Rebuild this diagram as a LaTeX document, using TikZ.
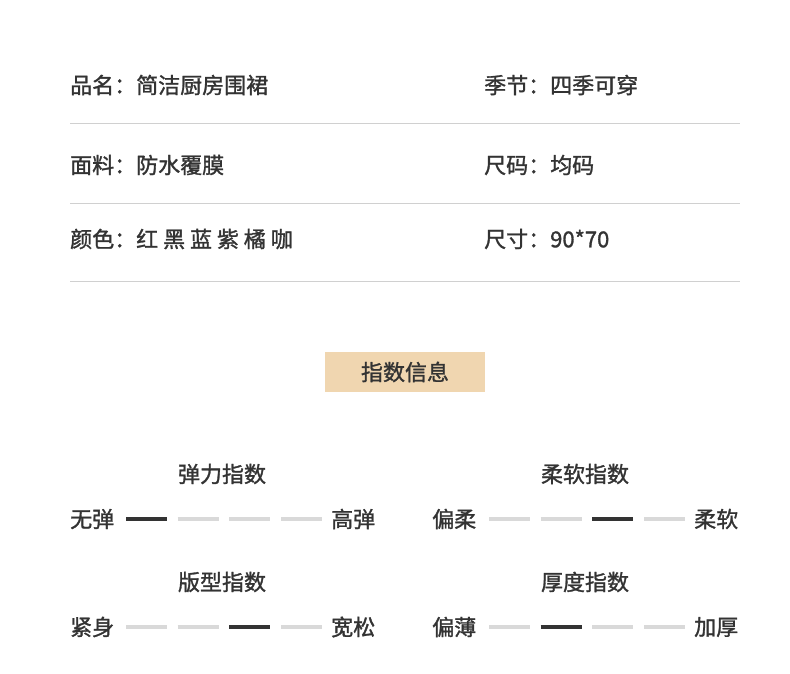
\documentclass[tikz,border=0pt]{standalone}
\usepackage{fontspec}
\setmainfont{Noto Sans CJK SC}
\newfontfamily\cjkmed[FakeBold=1.3]{Noto Sans CJK SC}
\definecolor{txt}{HTML}{333333}
\definecolor{rule}{HTML}{D0D0D0}
\definecolor{tagbg}{HTML}{F0D6B0}
\definecolor{barlo}{HTML}{D9D9D9}
\tikzset{
  lbl/.style={anchor=west, inner sep=0pt, text=txt, font=\cjkmed\fontsize{22}{24}\selectfont},
  ttl/.style={inner sep=0pt, text=txt, font=\cjkmed\fontsize{22}{24}\selectfont},
  bar/.style={line width=3.4pt, barlo},
  baron/.style={line width=3.4pt, txt}
}
\begin{document}
\begin{tikzpicture}[x=1pt,y=-1pt]
\useasboundingbox[fill=white] (0,0) rectangle (790,674);

% info rows
\node[lbl] (name) at (70,85) {品名：简洁厨房围裙};
\node[lbl] (season) at (484,85) {季节：四季可穿};
\node[lbl] (fabric) at (70,165) {面料：防水覆膜};
\node[lbl] (size) at (484,165) {尺码：均码};
\node[lbl] (color) at (70,239) {颜色：红 黑 蓝 紫 橘 咖};
\node[lbl] (dim) at (484,239) {尺寸：90*70};
\foreach \y in {124,203,281}
  \draw[rule, line width=1pt] (70,\y) -- (740,\y);

% tag
\fill[tagbg] (325,352) rectangle (485,392);
\node[ttl] (tag) at (405,372) {指数信息};

% indices
\node[ttl] (t1) at (222,474) {弹力指数};
\node[ttl] (t2) at (585,474) {柔软指数};
\node[ttl] (t3) at (222,582) {版型指数};
\node[ttl] (t4) at (585,582) {厚度指数};

\node[lbl] (a1) at (70,519) {无弹};
\node[lbl] (b1) at (331,519) {高弹};
\node[lbl] (a2) at (432,519) {偏柔};
\node[lbl] (b2) at (694,519) {柔软};
\node[lbl] (a3) at (70,627) {紧身};
\node[lbl] (b3) at (331,627) {宽松};
\node[lbl] (a4) at (432,627) {偏薄};
\node[lbl] (b4) at (694,627) {加厚};

% bars: x-start / y / active index
\foreach \x/\y/\k in {126/519/1, 489/519/3, 126/627/3, 489/627/2}
  \foreach \i in {1,...,4}{
    \pgfmathsetmacro{\xa}{\x+(\i-1)*51.7}
    \ifnum\i=\k
      \draw[baron] (\xa,\y) -- ++(41,0);
    \else
      \draw[bar] (\xa,\y) -- ++(41,0);
    \fi
  }
\end{tikzpicture}
\end{document}
